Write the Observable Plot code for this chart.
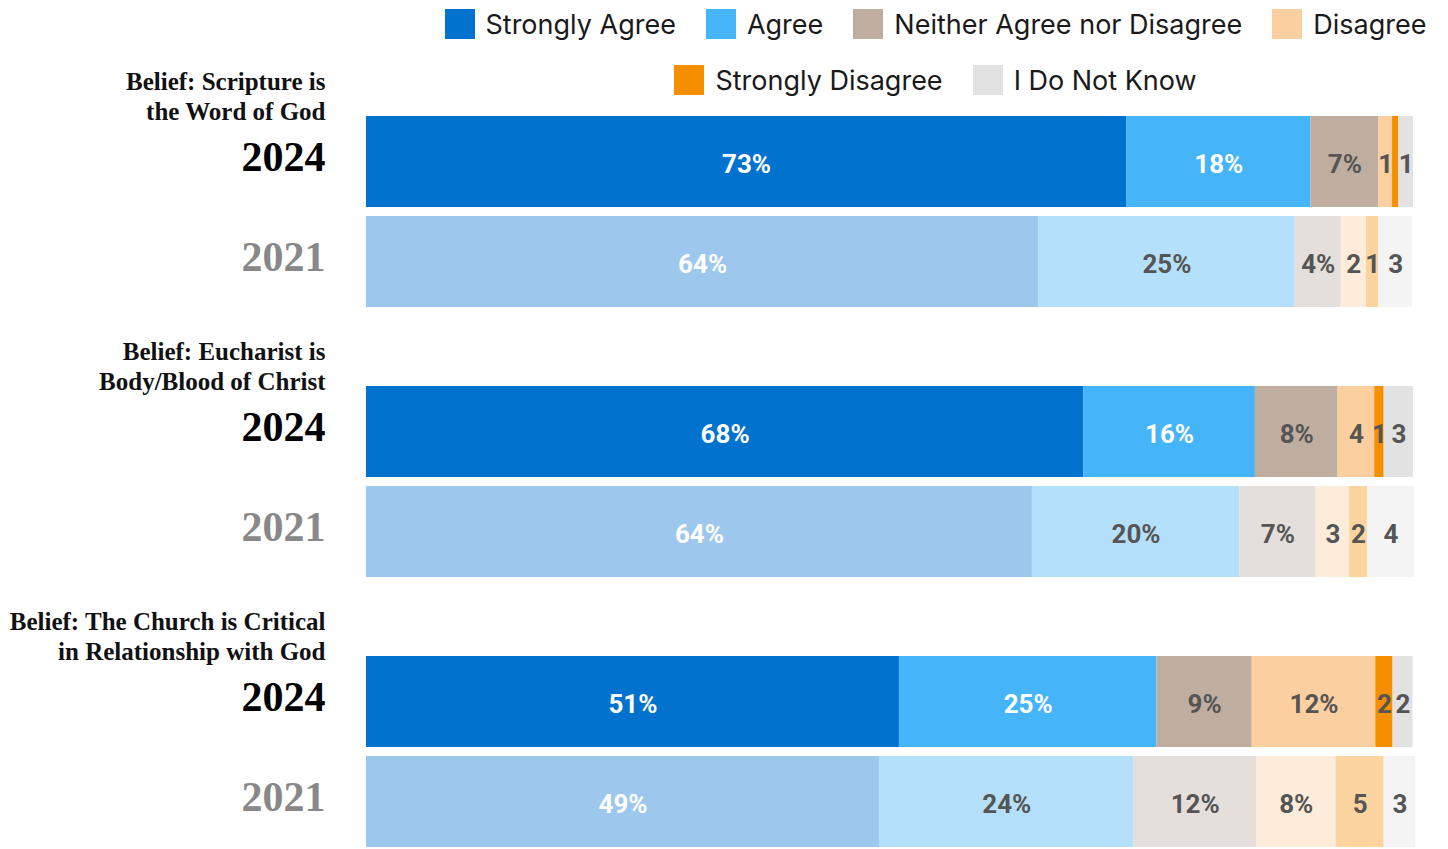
<!DOCTYPE html>
<html>
<head>
<meta charset="utf-8">
<script src="https://cdn.jsdelivr.net/npm/d3@7"></script>
<script src="https://cdn.jsdelivr.net/npm/@observablehq/plot@0.6"></script>
<style>
  html, body { margin: 0; padding: 0; background: #fff; overflow: hidden; }
  #wrap { position: relative; width: 1448px; height: 849px; }
  #legend { position: absolute; left: 422px; top: 9px; width: 1027px; font-family: Inter, "Noto Sans", sans-serif; font-size: 27px; color: #1a1a1a; }
  .lrow { display: flex; justify-content: center; gap: 30px; height: 30px; margin-bottom: 26px; }
  .litem { display: flex; align-items: center; gap: 11px; white-space: nowrap; }
  .lsw { width: 30px; height: 30px; flex: none; }
  #chart { position: absolute; left: 0; top: 0; }
</style>
</head>
<body>
<div id="wrap">
  <div id="chart"></div>
  <div id="legend"></div>
</div>
<script>
// ---- data ----
const categories = ["Strongly Agree", "Agree", "Neither Agree nor Disagree", "Disagree", "Strongly Disagree", "I Do Not Know"];
const years = ["2024", "2021"];
const beliefs = ["Belief: Scripture is\nthe Word of God", "Belief: Eucharist is\nBody/Blood of Christ", "Belief: The Church is Critical\nin Relationship with God"];

const scripture2024 = [72.6, 17.6, 6.5, 1.3, 0.6, 1.4];
const scripture2021 = [64.2, 24.5, 4.4, 2.4, 1.2, 3.2];
const eucharist2024 = [68.5, 16.4, 7.9, 3.5, 0.9, 2.8];
const eucharist2021 = [63.6, 19.8, 7.3, 3.2, 1.7, 4.5];
const church2024 = [50.9, 24.6, 9.1, 11.8, 1.65, 1.9];
const church2021 = [49.0, 24.3, 11.7, 7.6, 4.6, 3.0];

const scripture2024Labels = ["73%", "18%", "7%", "1", "", "1"];
const scripture2021Labels = ["64%", "25%", "4%", "2", "1", "3"];
const eucharist2024Labels = ["68%", "16%", "8%", "4", "1", "3"];
const eucharist2021Labels = ["64%", "20%", "7%", "3", "2", "4"];
const church2024Labels = ["51%", "25%", "9%", "12%", "2", "2"];
const church2021Labels = ["49%", "24%", "12%", "8%", "5", "3"];

// ---- styles ----
const colors2024 = ["#0173cf", "#46b4f8", "#bfae9f", "#fbcf9f", "#f68f00", "#e2e2e2"];
const colors2021 = ["#9dc7ec", "#b5e0fb", "#e4dfda", "#feecda", "#fcd49f", "#f4f4f4"];

const series = [
  [beliefs[0], "2024", scripture2024, scripture2024Labels],
  [beliefs[0], "2021", scripture2021, scripture2021Labels],
  [beliefs[1], "2024", eucharist2024, eucharist2024Labels],
  [beliefs[1], "2021", eucharist2021, eucharist2021Labels],
  [beliefs[2], "2024", church2024, church2024Labels],
  [beliefs[2], "2021", church2021, church2021Labels]
];
const rows = [];
for (const [belief, year, vals, labs] of series) {
  vals.forEach((v, i) => rows.push({belief, year, cat: categories[i], idx: i, value: v, label: labs[i], key: categories[i] + "|" + year}));
}
const keys = [...categories.map(c => c + "|2024"), ...categories.map(c => c + "|2021")];
const keyColors = [...colors2024, ...colors2021];

const yearRows = [];
for (const b of beliefs) for (const y of years) yearRows.push({belief: b, year: y});
const titleRows = beliefs.map(b => ({belief: b, year: "2024", title: b}));

const isWhite = d => d.idx === 0 || (d.idx === 1 && d.year === "2024");
const numFont = "Roboto, 'Open Sans', sans-serif";
const serif = "'Liberation Serif', 'DejaVu Serif', serif";
const numStyle = {fontSize: 26, fontWeight: 700, fontFamily: numFont, dy: 3, letterSpacing: "1px"};

const chart = Plot.plot({
  width: 1448,
  height: 849,
  marginTop: 114,
  marginBottom: 1,
  marginLeft: 366,
  marginRight: 35,
  x: {domain: [0, 100], axis: null},
  y: {domain: years, axis: null, paddingInner: 0.09, paddingOuter: 0},
  fy: {domain: beliefs, axis: null, paddingInner: 0.29, paddingOuter: 0},
  color: {domain: keys, range: keyColors},
  marks: [
    Plot.barX(rows, Plot.stackX({x: "value", y: "year", fy: "belief", fill: "key"})),
    Plot.text(rows, Plot.stackX({x: "value", y: "year", fy: "belief", text: d => isWhite(d) ? d.label : "",
      fill: "white", ...numStyle})),
    Plot.text(rows, Plot.stackX({x: "value", y: "year", fy: "belief", text: d => isWhite(d) ? "" : d.label,
      fill: "#555555", ...numStyle})),
    Plot.text(yearRows, {y: "year", fy: "belief", text: "year", frameAnchor: "left", textAnchor: "end", dx: -41, dy: -4,
      fill: d => d.year === "2024" ? "#000" : "#888", fontSize: 42, fontWeight: 700, fontFamily: serif}),
    Plot.text(titleRows, {y: "year", fy: "belief", text: "title", frameAnchor: "left", textAnchor: "end", dx: -41, dy: -67,
      lineHeight: 1.2, fill: "#111", fontSize: 25, fontWeight: 700, fontFamily: serif})
  ]
});
document.getElementById("chart").appendChild(chart);

// ---- legend ----
const legendRows = [[0, 1, 2, 3], [4, 5]];
const legend = document.getElementById("legend");
for (const r of legendRows) {
  const row = document.createElement("div");
  row.className = "lrow";
  for (const i of r) {
    const item = document.createElement("div");
    item.className = "litem";
    const sw = document.createElement("div");
    sw.className = "lsw";
    sw.style.background = colors2024[i];
    const t = document.createElement("span");
    t.textContent = categories[i];
    item.appendChild(sw); item.appendChild(t);
    row.appendChild(item);
  }
  legend.appendChild(row);
}
</script>
</body>
</html>
